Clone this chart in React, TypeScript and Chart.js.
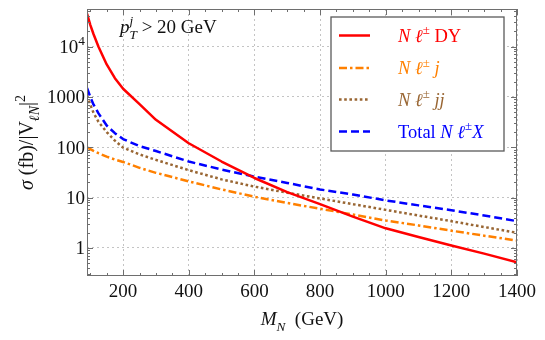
import React, { useEffect, useRef } from "react";
import { Chart, registerables } from "chart.js";

Chart.register(...registerables);

// ---- data ----
const massN = [90, 100, 110, 125, 150, 175, 200, 250, 300, 400, 500, 600, 700, 800, 900, 1000, 1100, 1200, 1300, 1400];
const sigmaDY = [45000, 27000, 17500, 9900, 4400, 2350, 1450, 720, 350, 120, 52, 24.5, 12.8, 7.4, 4.2, 2.45, 1.65, 1.12, 0.77, 0.52];
const sigmaJ = [100, 92, 85, 76, 65, 57, 51, 39, 31, 21, 14.5, 10.4, 7.8, 6.0, 4.6, 3.5, 2.8, 2.2, 1.75, 1.4];
const sigmaJJ = [1050, 700, 480, 320, 200, 135, 98, 72, 56, 35, 23, 16.5, 12.5, 9.6, 7.4, 5.7, 4.4, 3.4, 2.6, 2.0];
const sigmaTotal = [1500, 1000, 700, 470, 270, 190, 145, 105, 84, 52, 36, 26, 19.5, 14.5, 11.5, 8.8, 7.0, 5.6, 4.4, 3.4];

const xTickValues = [200, 400, 600, 800, 1000, 1200, 1400];
const xTickLabels = ["200", "400", "600", "800", "1000", "1200", "1400"];
const yTickValues = [1, 10, 100, 1000, 10000];
const yTickLabels = ["1", "10", "100", "1000", "10^4"];
const xRange = [90, 1400];
const yRange = [0.277, 55600];

const seriesNames = ["N ℓ± DY", "N ℓ± j", "N ℓ± jj", "Total N ℓ± X"];

const RED = "rgb(255,0,0)";
const ORANGE = "rgb(255,128,0)";
const BROWN = "rgb(153,102,51)";
const BLUE = "rgb(0,0,255)";
const FRAME = "#6e6e6e";
const SERIF = '"Liberation Serif", "Times New Roman", serif';

type Seg = { t: string; it?: boolean; sub?: boolean; sup?: boolean; hold?: boolean };

function fontFor(s: Seg, size: number) {
  const sz = s.sub || s.sup ? size * 0.7 : size;
  return `${s.it ? "italic " : ""}${sz}px ${SERIF}`;
}
function richWidth(ctx: CanvasRenderingContext2D, segs: Seg[], size: number) {
  let w = 0, held = 0;
  for (const s of segs) {
    ctx.font = fontFor(s, size);
    const m = ctx.measureText(s.t).width;
    if (s.hold) held = Math.max(held, m);
    else { w += Math.max(m, held); held = 0; }
  }
  return w;
}
function drawRich(ctx: CanvasRenderingContext2D, segs: Seg[], x: number, y: number, size: number) {
  let cx = x, held = 0;
  ctx.textAlign = "left";
  ctx.textBaseline = "alphabetic";
  for (const s of segs) {
    ctx.font = fontFor(s, size);
    const dy = s.sub ? size * 0.3 : s.sup ? -size * 0.4 : 0;
    ctx.fillText(s.t, cx, y + dy);
    const m = ctx.measureText(s.t).width;
    if (s.hold) held = Math.max(held, m);
    else { cx += Math.max(m, held); held = 0; }
  }
  return cx - x;
}

const legendSegs: Seg[][] = [
  [{ t: "N", it: true }, { t: " " }, { t: "ℓ", it: true }, { t: "±", sup: true }, { t: " DY" }],
  [{ t: "N", it: true }, { t: " " }, { t: "ℓ", it: true }, { t: "±", sup: true }, { t: " j", it: true }],
  [{ t: "N", it: true }, { t: " " }, { t: "ℓ", it: true }, { t: "±", sup: true }, { t: " jj", it: true }],
  [{ t: "Total " }, { t: "N", it: true }, { t: " " }, { t: "ℓ", it: true }, { t: "±", sup: true }, { t: "X", it: true }],
];
const colors = [RED, ORANGE, BROWN, BLUE];
const dashes = [[], [8, 3, 2.5, 3], [2.6, 2.6], [8, 4]];

const decorPlugin = {
  id: "decor",
  afterDraw(chart: any) {
    const { ctx, chartArea: a, scales } = chart;
    const xs = scales.x, ys = scales.y;
    ctx.save();
    // frame
    ctx.strokeStyle = FRAME;
    ctx.lineWidth = 1;
    ctx.setLineDash([]);
    ctx.strokeRect(a.left + 0.5, a.top + 0.5, a.right - a.left - 1, a.bottom - a.top - 1);
    // x ticks (inside, bottom & top)
    ctx.beginPath();
    for (let v = 100; v <= 1400; v += 50) {
      const px = Math.round(xs.getPixelForValue(v)) + 0.5;
      const len = v % 200 === 0 ? 6 : 3;
      ctx.moveTo(px, a.bottom); ctx.lineTo(px, a.bottom - len);
      ctx.moveTo(px, a.top); ctx.lineTo(px, a.top + len);
    }
    // y ticks (inside, left & right)
    for (let k = -1; k <= 4; k++) {
      for (let m = 1; m <= 9; m++) {
        const v = m * Math.pow(10, k);
        if (v < yRange[0] || v > yRange[1]) continue;
        const py = Math.round(ys.getPixelForValue(v)) + 0.5;
        const len = m === 1 ? 6 : 3;
        ctx.moveTo(a.left, py); ctx.lineTo(a.left + len, py);
        ctx.moveTo(a.right, py); ctx.lineTo(a.right - len, py);
      }
    }
    ctx.stroke();

    // tick labels
    ctx.fillStyle = "#111";
    const TS = 19;
    xTickValues.forEach((v, i) => {
      ctx.font = `${TS}px ${SERIF}`;
      ctx.textAlign = "center";
      ctx.textBaseline = "alphabetic";
      ctx.fillText(xTickLabels[i], xs.getPixelForValue(v), a.bottom + 21);
    });
    yTickValues.forEach((v, i) => {
      const py = ys.getPixelForValue(v) + 6.5;
      const lab = yTickLabels[i];
      const right = a.left - 2;
      let segs: Seg[];
      if (lab.includes("^")) {
        const [b, e] = lab.split("^");
        segs = [{ t: b }, { t: e, sup: true }];
      } else segs = [{ t: lab }];
      const w = richWidth(ctx, segs, TS);
      drawRich(ctx, segs, right - w, py, TS);
    });

    // x title
    const xt: Seg[] = [{ t: "M", it: true }, { t: "N", it: true, sub: true }, { t: "  (GeV)" }];
    const xw = richWidth(ctx, xt, 19);
    drawRich(ctx, xt, (a.left + a.right) / 2 - xw / 2, 325, 19);

    // y title (rotated)
    const yt: Seg[] = [
      { t: "σ", it: true }, { t: " (fb)/|V" }, { t: "ℓN", it: true, sub: true }, { t: "|" }, { t: "2", sup: true },
    ];
    ctx.save();
    ctx.translate(27, (a.top + a.bottom) / 2);
    ctx.rotate(-Math.PI / 2);
    const yw = richWidth(ctx, yt, 20);
    drawRich(ctx, yt, -yw / 2, 6, 20);
    ctx.restore();

    // annotation
    const ann: Seg[] = [
      { t: "p", it: true }, { t: "j", it: true, sup: true, hold: true }, { t: "T", it: true, sub: true },
      { t: " > 20 GeV" },
    ];
    drawRich(ctx, ann, 120, 33, 19);

    // legend
    const bx = 331, by = 17, bw = 173, bh = 134;
    ctx.fillStyle = "#fff";
    ctx.fillRect(bx, by, bw, bh);
    ctx.strokeStyle = "#5a5a5a";
    ctx.lineWidth = 1.3;
    ctx.strokeRect(bx, by, bw, bh);
    const rowY = [35.5, 68, 99.5, 131.5];
    seriesNames.forEach((_, i) => {
      ctx.strokeStyle = colors[i];
      ctx.lineWidth = 2.5;
      ctx.setLineDash(dashes[i]);
      ctx.beginPath();
      ctx.moveTo(339, rowY[i]);
      ctx.lineTo(370, rowY[i]);
      ctx.stroke();
      ctx.setLineDash([]);
      ctx.fillStyle = colors[i];
      drawRich(ctx, legendSegs[i], 398, rowY[i] + 6, 18.5);
    });
    ctx.restore();
  },
};

export default function App() {
  const ref = useRef<HTMLCanvasElement>(null);
  useEffect(() => {
    document.body.style.margin = "0";
    const canvas = ref.current!;
    const sets = [sigmaDY, sigmaJ, sigmaJJ, sigmaTotal];
    const chart = new Chart(canvas, {
      type: "line",
      data: {
        datasets: sets.map((vals, i) => ({
          label: seriesNames[i],
          data: massN.map((m, j) => ({ x: m, y: vals[j] })),
          borderColor: colors[i],
          backgroundColor: colors[i],
          borderWidth: 2.5,
          borderDash: dashes[i],
          borderCapStyle: "butt",
          borderJoinStyle: "round",
          pointRadius: 0,
          tension: 0,
          fill: false,
        })),
      },
      options: {
        animation: false,
        responsive: false,
        devicePixelRatio: 1,
        layout: { padding: { left: 87, top: 9, right: 28, bottom: 64 } },
        plugins: { legend: { display: false }, tooltip: { enabled: false } },
        scales: {
          x: {
            type: "linear",
            min: xRange[0],
            max: xRange[1],
            afterBuildTicks: (s: any) => { s.ticks = xTickValues.map((v) => ({ value: v })); },
            afterFit: (s: any) => { s.height = 0; },
            ticks: { display: false },
            grid: { drawTicks: false, color: "#c4c4c4", lineWidth: 1 },
            border: { display: false, dash: [2, 3] },
          },
          y: {
            type: "logarithmic",
            min: yRange[0],
            max: yRange[1],
            afterBuildTicks: (s: any) => { s.ticks = yTickValues.map((v) => ({ value: v })); },
            afterFit: (s: any) => { s.width = 0; },
            ticks: { display: false },
            grid: { drawTicks: false, color: "#c4c4c4", lineWidth: 1 },
            border: { display: false, dash: [2, 3] },
          },
        },
      } as any,
      plugins: [decorPlugin],
    });
    return () => chart.destroy();
  }, []);
  return <canvas ref={ref} width={545} height={340} style={{ display: "block", width: 545, height: 340 }} />;
}
